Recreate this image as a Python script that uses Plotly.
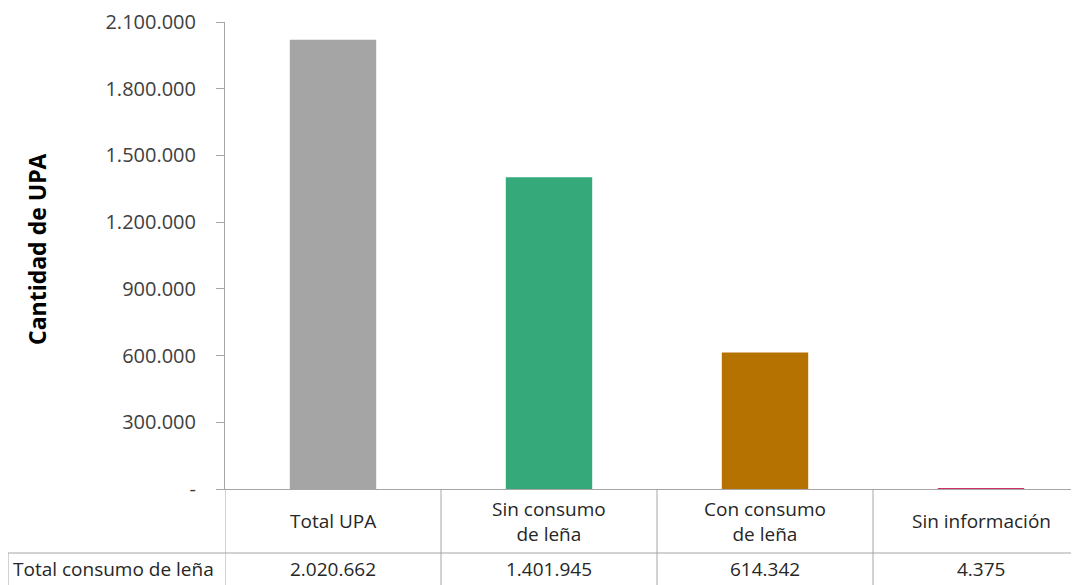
import plotly.graph_objects as go

# =========================
# DATA
# =========================

categories = ["Total UPA", "Sin consumo<br>de leña", "Con consumo<br>de leña", "Sin información"]
values = [2020662, 1401945, 614342, 4375]
bar_colors = ["#A5A5A5", "#36A97A", "#B57200", "#D0306A"]
row_label = "Total consumo de leña"

y_tickvals = [0, 300000, 600000, 900000, 1200000, 1500000, 1800000, 2100000]
y_ticktext = ["-", "300.000", "600.000", "900.000", "1.200.000", "1.500.000", "1.800.000", "2.100.000"]

# =========================
# LAYOUT CONSTANTS (page pixels; page body adds an 8px offset)
# =========================

FONT = "Open Sans"
GRID = "#A6A6A6"
OFF = 8
W, H = 1079 - OFF, 585 - OFF
AX_X, AX_TOP, AX_BOT = 225, 22, 489
M_L, M_T = AX_X - OFF, AX_TOP - OFF
M_B = H - (AX_BOT - OFF)
CAT_W = 216.0
TBL_FONT = dict(size=19, family=FONT, color="#262626")


def fmt_es(v):
    return f"{v:,}".replace(",", ".")


def py(pix):
    # page pixel -> paper y
    return 1 - (pix - OFF - M_T) / (H - M_T - M_B)


def px(pix):
    # page pixel -> paper x
    return (pix - OFF - M_L) / (W - M_L)


x_pos = list(range(len(categories)))
x_end = -0.5 + (W - M_L) / CAT_W

fig = go.Figure()
fig.add_trace(
    go.Bar(
        x=x_pos,
        y=values,
        width=0.4,
        marker=dict(color=bar_colors, line=dict(width=0)),
        showlegend=False,
        hoverinfo="skip",
    )
)

fig.update_layout(
    width=W,
    height=H,
    margin=dict(l=M_L, r=0, t=M_T, b=M_B),
    plot_bgcolor="white",
    paper_bgcolor="white",
    font=dict(family=FONT, color="#404040"),
    xaxis=dict(
        range=[-0.5, x_end],
        showticklabels=False,
        showgrid=False,
        zeroline=False,
        showline=True,
        linecolor=GRID,
        linewidth=1,
        ticks="",
        fixedrange=True,
    ),
    yaxis=dict(
        range=[0, 2100000],
        tickvals=y_tickvals,
        ticktext=y_ticktext,
        ticks="outside",
        ticklen=8,
        tickcolor=GRID,
        showline=True,
        linecolor=GRID,
        linewidth=1,
        showgrid=False,
        zeroline=False,
        tickfont=dict(size=20, family=FONT, color="#404040"),
        ticklabelstandoff=16,
    ),
)

# data table lines
shapes = []
for i in range(len(categories)):
    shapes.append(dict(type="line", xref="x", yref="paper",
                       x0=i - 0.5, x1=i - 0.5, y0=0, y1=py(585),
                       line=dict(color=GRID, width=1)))
shapes.append(dict(type="line", xref="paper", yref="paper",
                   x0=px(8), x1=1, y0=py(553), y1=py(553),
                   line=dict(color=GRID, width=1)))
shapes.append(dict(type="line", xref="paper", yref="paper",
                   x0=px(8), x1=px(8), y0=py(553), y1=py(585),
                   line=dict(color=GRID, width=1)))
fig.update_layout(shapes=shapes)

# data table texts + y title
annotations = []
for i, (cat, val) in enumerate(zip(categories, values)):
    annotations.append(dict(x=i, y=py(521), xref="x", yref="paper",
                            text=cat, showarrow=False, xanchor="center", yanchor="middle",
                            font=TBL_FONT))
    annotations.append(dict(x=i, y=py(569), xref="x", yref="paper",
                            text=fmt_es(val), showarrow=False, xanchor="center", yanchor="middle",
                            font=TBL_FONT))
annotations.append(dict(x=px(11), y=py(569), xref="paper", yref="paper",
                        text=row_label, showarrow=False, xanchor="left", yanchor="middle",
                        font=TBL_FONT))
annotations.append(dict(x=px(37), y=py(249), xref="paper", yref="paper",
                        text="<b>Cantidad de UPA</b>", showarrow=False, textangle=-90,
                        xanchor="center", yanchor="middle",
                        font=dict(size=23, family=FONT, color="black")))
fig.update_layout(annotations=annotations)

fig.write_html("out.html")
